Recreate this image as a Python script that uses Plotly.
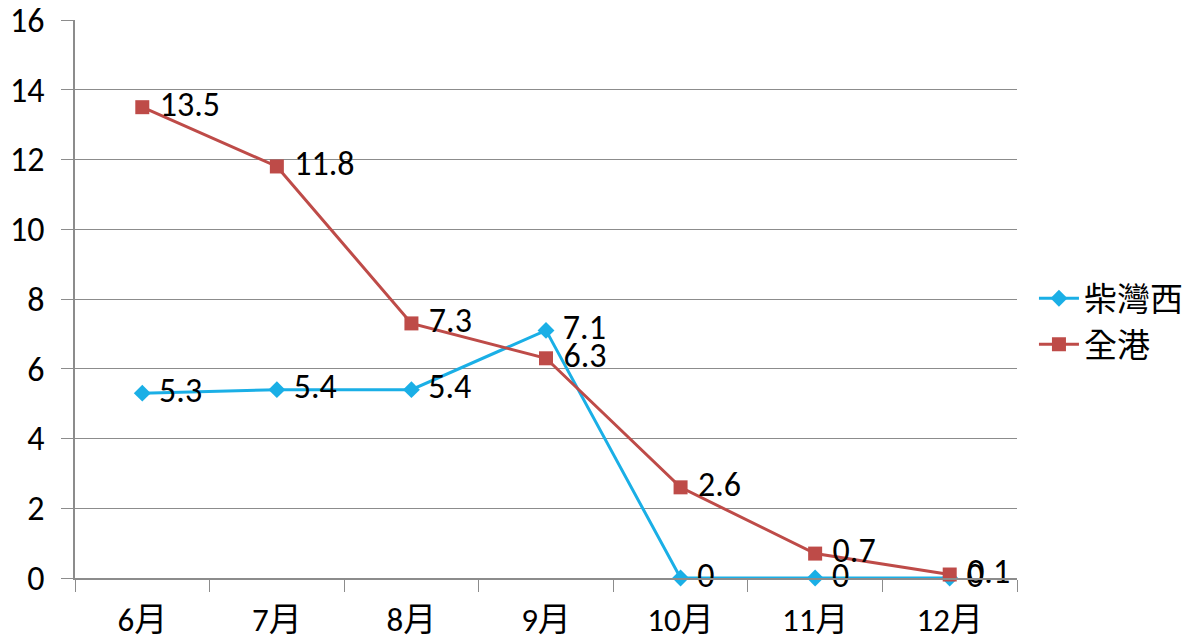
import plotly.graph_objects as go

months = ["6月", "7月", "8月", "9月", "10月", "11月", "12月"]
chai_wan_west = [5.3, 5.4, 5.4, 7.1, 0, 0, 0]
whole_hk = [13.5, 11.8, 7.3, 6.3, 2.6, 0.7, 0.1]
y_ticks = [0, 2, 4, 6, 8, 10, 12, 14, 16]

num_font = "Carlito, Calibri, Lato, 'Noto Sans', 'Noto Sans CJK TC', sans-serif"
cjk_font = "Carlito, Lato, 'Noto Sans CJK TC', sans-serif"

fig = go.Figure()
fig.add_trace(go.Scatter(
    x=months, y=chai_wan_west, name="柴灣西",
    mode="lines+markers+text",
    text=[f" {v:g}" for v in chai_wan_west], textposition="middle right",
    textfont=dict(size=34, color="#000000", family=num_font),
    line=dict(color="#1AAFE6", width=3),
    marker=dict(symbol="diamond", size=13, color="#1AAFE6"),
    cliponaxis=False,
))
fig.add_trace(go.Scatter(
    x=months, y=whole_hk, name="全港",
    mode="lines+markers+text",
    text=[f" {v:g}" for v in whole_hk], textposition="middle right",
    textfont=dict(size=34, color="#000000", family=num_font),
    line=dict(color="#BE4B48", width=3),
    marker=dict(symbol="square", size=14, color="#BE4B48"),
    cliponaxis=False,
))

fig.update_layout(
    width=1200, height=641,
    margin=dict(l=75, r=180, t=20, b=63),
    paper_bgcolor="white", plot_bgcolor="white",
    font=dict(family=num_font, size=30, color="#000000"),
    showlegend=True,
    legend=dict(
        x=1.018, xanchor="left", y=0.46, yanchor="middle",
        font=dict(size=33, family=cjk_font),
        tracegroupgap=13, itemwidth=40,
        bgcolor="rgba(0,0,0,0)",
    ),
    xaxis=dict(
        type="category", tickson="boundaries", ticks="outside", ticklen=12,
        tickcolor="#8C8C8C", showgrid=False, showline=True, linecolor="#8C8C8C",
        linewidth=1.5, tickfont=dict(size=33, family=cjk_font),
        range=[-0.5, 6.5], zeroline=False, automargin=False,
        ticklabelstandoff=12, ticklabeloverflow="allow",
    ),
    yaxis=dict(
        range=[0, 16], tickvals=y_ticks, ticks="outside", ticklen=12,
        tickcolor="#8C8C8C", showgrid=True, gridcolor="#8C8C8C", gridwidth=1,
        showline=True, linecolor="#8C8C8C", linewidth=1.5, zeroline=False,
        tickfont=dict(size=34), automargin=False, ticklabelstandoff=10,
        ticklabeloverflow="allow",
    ),
)

fig.write_html("out.html", config={"displayModeBar": False},
               post_script="document.body.style.margin='0';")
